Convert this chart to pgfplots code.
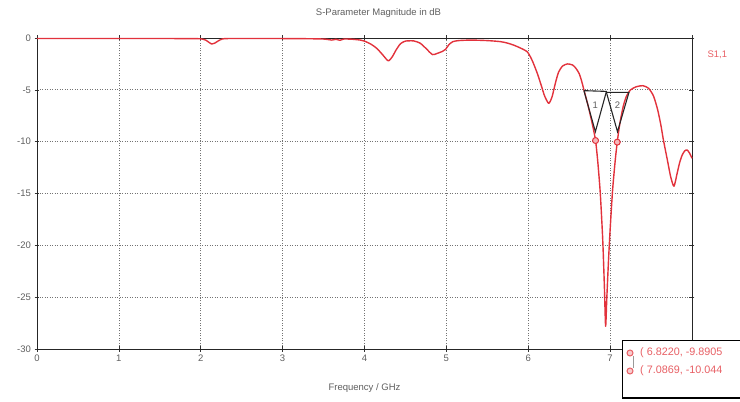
\documentclass[border=0pt]{standalone}
\usepackage{fontspec}
\setmainfont{Liberation Sans}
\usepackage{pgfplots}
\pgfplotsset{compat=1.18}

\definecolor{sred}{RGB}{226,50,60}
\definecolor{mred}{RGB}{232,95,100}
\definecolor{txt}{RGB}{95,95,95}

\begin{document}
\begin{tikzpicture}[font=\fontsize{9.5}{11}\selectfont]
\begin{axis}[
  scale only axis, width=655pt, height=311pt,
  xmin=0, xmax=8, ymin=-30, ymax=0,
  xtick={0,1,2,3,4,5,6,7,8}, xticklabels={0,1,2,3,4,5,6,7,},
  ytick={-30,-25,-20,-15,-10,-5,0},
  grid=major,
  major grid style={black!55, dash pattern=on 1pt off 1.5pt, line width=0.7pt},
  axis line style={black!85, line width=0.8pt},
  tick style={black!80, line width=0.6pt},
  tick align=center, major tick length=5pt,
  ticklabel style={text=txt},
  /pgf/number format/assume math mode=true,
  title={S-Parameter Magnitude in dB},
  title style={text=txt, at={(0.5,1)}, anchor=south, yshift=11pt, xshift=14pt},
  xlabel={Frequency / GHz},
  xlabel style={text=txt, at={(axis description cs:0.5,0)}, anchor=center, yshift=-39pt},
  clip=false,
]
\addplot[sred, line width=1.4pt, line join=round, smooth, tension=0.4] coordinates {
(0,-0.05) (0.5,-0.05) (1,-0.05) (1.5,-0.05) (1.9,-0.06) (2.0,-0.08) (2.06,-0.2) (2.10,-0.42) (2.135,-0.58) (2.17,-0.5) (2.21,-0.3) (2.26,-0.1) (2.35,-0.05) (2.8,-0.05) (3.2,-0.06) (3.5,-0.1) (3.6,-0.2) (3.65,-0.12) (3.7,-0.22) (3.75,-0.1) (3.85,-0.12) (3.95,-0.2) (4.0,-0.3) (4.08,-0.6) (4.15,-1.0) (4.22,-1.6) (4.29,-2.2) (4.34,-1.8) (4.39,-1.1) (4.44,-0.55) (4.5,-0.3) (4.6,-0.28) (4.68,-0.5) (4.75,-1.0) (4.83,-1.6) (4.89,-1.48) (4.95,-1.3) (4.99,-1.1) (5.03,-0.65) (5.08,-0.35) (5.15,-0.25) (5.3,-0.2) (5.5,-0.25) (5.66,-0.35) (5.75,-0.5) (5.82,-0.68) (5.9,-0.95) (5.99,-1.35) (6.05,-2.2) (6.11,-3.4) (6.16,-4.6) (6.2,-5.6) (6.25,-6.3) (6.29,-5.7) (6.33,-4.4) (6.37,-3.3) (6.42,-2.7) (6.48,-2.5) (6.54,-2.6) (6.58,-2.9) (6.62,-3.4) (6.65,-4.1) (6.68,-5.0) (6.73,-6.5) (6.78,-8.2) (6.822,-9.89) (6.85,-12) (6.88,-15) (6.91,-19.5) (6.93,-24) (6.945,-27.8) (6.96,-25) (6.98,-21.5) (7.0,-18.5) (7.03,-14.7) (7.06,-12) (7.0869,-10.044) (7.12,-8.2) (7.16,-6.6) (7.2,-5.6) (7.25,-5.0) (7.32,-4.7) (7.4,-4.6) (7.47,-4.85) (7.53,-5.6) (7.58,-6.9) (7.62,-8.4) (7.65,-9.8) (7.70,-11.8) (7.74,-13.4) (7.78,-14.3) (7.82,-13.0) (7.85,-12.0) (7.88,-11.3) (7.91,-10.9) (7.94,-10.8) (7.97,-11.1) (8.0,-11.6)
};
% marker triangles
\addplot[black!85, line width=1.1pt] coordinates {(6.68,-5.08) (6.955,-5.15) (6.82,-9.04) (6.68,-5.08)};
\addplot[black!85, line width=1.1pt] coordinates {(6.955,-5.25) (7.23,-5.25) (7.09,-9.04) (6.955,-5.25)};
\addplot[only marks, mark=*, mark size=3pt, mark options={draw=sred, fill=sred!35, line width=1pt}] coordinates {(6.822,-9.8905) (7.0869,-10.044)};
\node[text=txt, font=\fontsize{9.5}{10}\selectfont] at (axis cs:6.82,-6.5) {1};
\node[text=txt, font=\fontsize{9.5}{10}\selectfont] at (axis cs:7.09,-6.5) {2};
\node[anchor=west, text=mred] at ([xshift=12pt,yshift=-17pt]rel axis cs:1,1) {S1,1};
\coordinate (O) at (rel axis cs:0,0);
\end{axis}
% marker readout box
\draw[black, line width=1pt, fill=white] (O) ++(585pt,8pt) rectangle ++(140pt,-57pt);
\draw[mred, line width=1pt, fill=sred!25] (O) ++(593pt,-4pt) circle (3pt);
\draw[mred, line width=1pt, fill=sred!25] (O) ++(593pt,-22pt) circle (3pt);
\draw[black!40, line width=0.6pt] (O) ++(596pt,-7pt) -- ++(0,-12pt);
\node[anchor=west, text=mred, inner sep=0pt, font=\fontsize{10.8}{12}\selectfont] at ([xshift=603pt,yshift=-4pt]O) {( 6.8220, -9.8905};
\node[anchor=west, text=mred, inner sep=0pt, font=\fontsize{10.8}{12}\selectfont] at ([xshift=603pt,yshift=-22pt]O) {( 7.0869, -10.044};
\pgfresetboundingbox
\path[use as bounding box] (O) ++(-37pt,-53pt) rectangle ++(740pt,402pt);
\end{tikzpicture}
\end{document}
